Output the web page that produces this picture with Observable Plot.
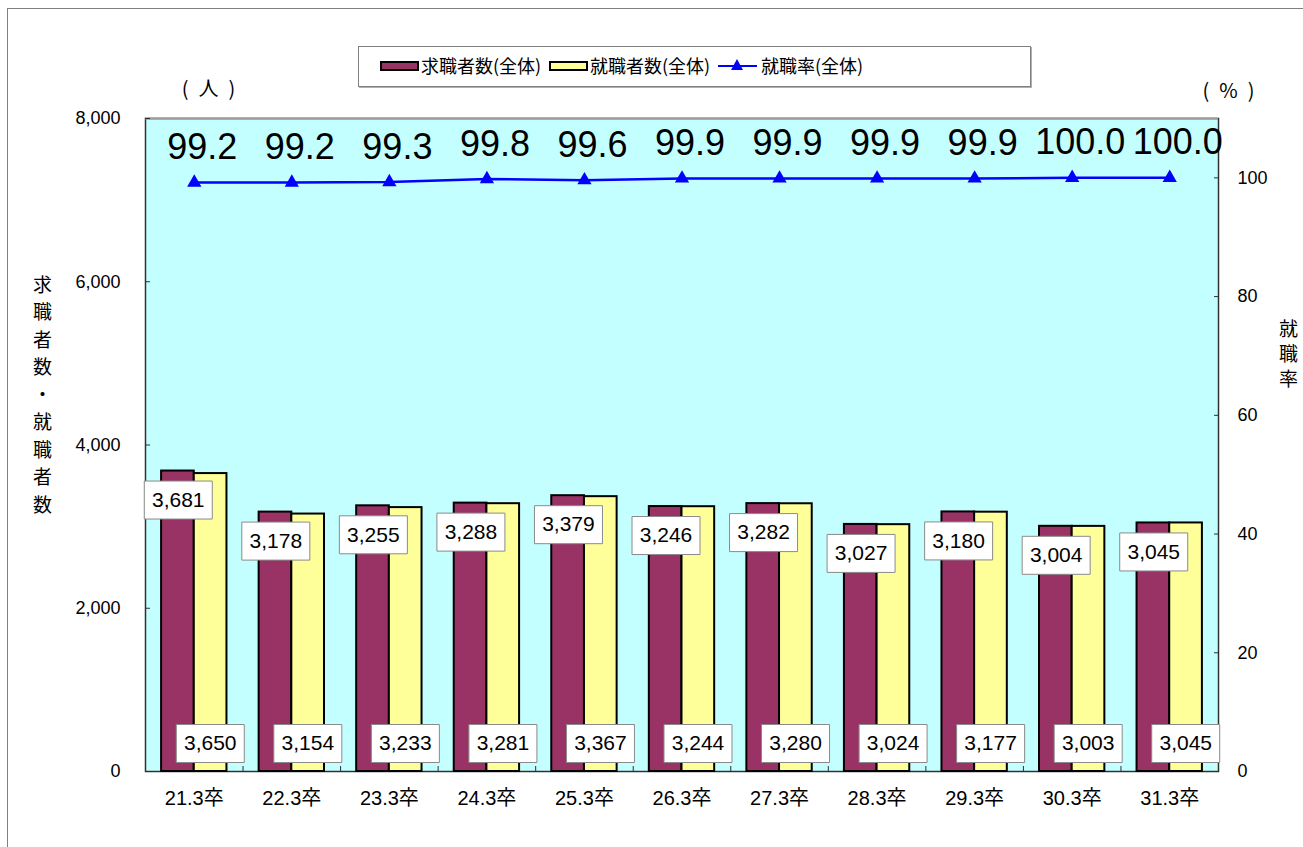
<!DOCTYPE html>
<html><head><meta charset="utf-8">
<script src="https://cdn.jsdelivr.net/npm/d3@7"></script>
<script src="https://cdn.jsdelivr.net/npm/@observablehq/plot@0.6"></script>
<style>
html,body{margin:0;padding:0;background:#fff;overflow:hidden;width:1303px;height:847px}
#wrap{position:relative;width:1303px;height:847px;font-family:"Liberation Sans","Noto Sans CJK JP",sans-serif}
#border{position:absolute;left:7px;top:8px;width:1400px;height:1000px;border:1px solid #808080}
#chart{position:absolute;left:0;top:0}
#legend{position:absolute;left:358px;top:46px;width:671px;height:39px;border:1px solid #808080;box-shadow:1px 1px 0 #b0b0b0;background:#fff;font-size:18px;font-family:"Noto Sans CJK JP","Liberation Sans",sans-serif}
.sw{position:absolute;top:14px;width:35px;height:6px;border:2px solid #000}
.lt{position:absolute;top:6px;line-height:24px;white-space:nowrap}
.ln{position:absolute;top:18px;width:39px;height:2px;background:#0000ff}
.tri{position:absolute;top:12px;width:0;height:0;border-left:6px solid transparent;border-right:6px solid transparent;border-bottom:11px solid #0000ff}
</style></head>
<body>
<div id="wrap">
  <div id="border"></div>
  <div id="chart"></div>
  <div id="legend"></div>
</div>
<script>
const categories = ["21.3卒","22.3卒","23.3卒","24.3卒","25.3卒","26.3卒","27.3卒","28.3卒","29.3卒","30.3卒","31.3卒"];
const seekers  = [3681,3178,3255,3288,3379,3246,3282,3027,3180,3004,3045];
const employed = [3650,3154,3233,3281,3367,3244,3280,3024,3177,3003,3045];
const rate     = [99.2,99.2,99.3,99.8,99.6,99.9,99.9,99.9,99.9,100.0,100.0];
const leftTicks  = [0,2000,4000,6000,8000];
const rightTicks = [0,20,40,60,80,100];
const seriesNames = ["求職者数(全体)","就職者数(全体)","就職率(全体)"];
const leftMax = 8000, rightMax = 110;

const k = leftMax / rightMax;
const data = categories.map((c,i)=>({cat:c, seekers:seekers[i], employed:employed[i], rate:rate[i], rateY:rate[i]*k}));

const W = 1303, H = 847, mL = 145, mR = 85, mT = 118, mB = 76;
const pIn = 0.33, pOut = 0.165;
const step = (W - mL - mR) / categories.length;
const bw = step * (1 - pIn);
const font = "'Liberation Sans','Noto Sans CJK JP',sans-serif";
const cjk = "'Noto Sans CJK JP',sans-serif";
const boxSym = {draw(ctx){ ctx.rect(-34,-19,68,38); }};
const fmt = d3.format(",");
const blank = () => "";

const chart = Plot.plot({
  width: W, height: H,
  marginLeft: mL, marginRight: mR, marginTop: mT, marginBottom: mB,
  style: {fontFamily: font, fontSize: "18px", color: "#000", background: "transparent", overflow: "visible"},
  x: {domain: categories, paddingInner: pIn, paddingOuter: pOut, align: 0.5, round: false, axis: null},
  y: {domain: [0, leftMax], axis: null},
  marks: [
    Plot.frame({fill: "#c4ffff", stroke: "#303030", strokeWidth: 1.5}),
    Plot.ruleY([leftMax], {stroke: "#9a9a9a", strokeWidth: 2}),
    // bars
    Plot.barY(data, {x: "cat", y: "seekers", fill: "#993366", stroke: "#000", strokeWidth: 2, insetRight: bw/2}),
    Plot.barY(data, {x: "cat", y: "employed", fill: "#ffff99", stroke: "#000", strokeWidth: 2, insetLeft: bw/2}),
    // axes
    Plot.axisY({anchor: "left", ticks: leftTicks, tickSize: 0, tickPadding: 25, tickFormat: fmt, fontSize: 18, label: null}),
    Plot.axisY({anchor: "left", ticks: leftTicks, tickSize: 5, dx: 5, tickFormat: blank, stroke: "#303030", label: null}),
    Plot.axisY({anchor: "right", ticks: rightTicks.map(v=>v*k), tickSize: 0, tickPadding: 19, tickFormat: d=>Math.round(d/k), fontSize: 18, label: null}),
    Plot.axisY({anchor: "right", ticks: rightTicks.map(v=>v*k), tickSize: 5, dx: -5, tickFormat: blank, stroke: "#303030", label: null}),
    Plot.axisX({tickSize: 0, tickPadding: 19, fontSize: 20, label: null}),
    Plot.axisX({tickSize: 5, dx: step/2, dy: -5, tickFormat: blank, stroke: "#303030", label: null}),
    // value labels seekers
    Plot.dot(data, {x: "cat", y: "seekers", symbol: boxSym, fill: "#fff", stroke: "#8a8a8a", strokeWidth: 1, dx: -16, dy: 29}),
    Plot.text(data, {x: "cat", y: "seekers", text: d=>fmt(d.seekers), dx: -16, dy: 29, fontSize: 21}),
    // value labels employed
    Plot.dot(data, {x: "cat", y: () => 0, symbol: boxSym, fill: "#fff", stroke: "#8a8a8a", strokeWidth: 1, dx: 16, dy: -28}),
    Plot.text(data, {x: "cat", y: () => 0, text: d=>fmt(d.employed), dx: 16, dy: -28, fontSize: 21}),
    // rate line
    Plot.line(data, {x: "cat", y: "rateY", stroke: "#0000ff", strokeWidth: 2.5}),
    Plot.dot(data, {x: "cat", y: "rateY", symbol: "triangle", fill: "#0000ff", r: 5.3}),
    Plot.text(data, {x: "cat", y: "rateY", text: d=>d.rate.toFixed(1), dx: 8, dy: -35, fontSize: 36}),
    // axis titles
    Plot.text(["求\n職\n者\n数\n・\n就\n職\n者\n数"], {frameAnchor: "left", dx: -103, dy: -52, fontSize: 19, lineHeight: 1.45, textAnchor: "middle", fontFamily: cjk}),
    Plot.text(["就\n職\n率"], {frameAnchor: "right", dx: 70, dy: -92, fontSize: 19, lineHeight: 1.32, textAnchor: "middle", fontFamily: cjk}),
    Plot.text(["(\u2002人\u2002)"], {frameAnchor: "top-left", dx: 63, dy: -29, fontSize: 20, textAnchor: "middle", lineAnchor: "middle", fontFamily: cjk}),
    Plot.text(["(\u2002%\u2002)"], {frameAnchor: "top-right", dx: 10, dy: -27, fontSize: 20, textAnchor: "middle", lineAnchor: "middle", fontFamily: cjk})
  ]
});
document.getElementById("chart").appendChild(chart);

const lg = document.getElementById("legend");
lg.innerHTML =
  `<div class="sw" style="left:21px;background:#993366"></div><div class="lt" style="left:62px">${seriesNames[0]}</div>` +
  `<div class="sw" style="left:190px;background:#ffff99"></div><div class="lt" style="left:231px">${seriesNames[1]}</div>` +
  `<div class="ln" style="left:359px"></div><div class="tri" style="left:372px"></div><div class="lt" style="left:402px">${seriesNames[2]}</div>`;
</script>
</body></html>
